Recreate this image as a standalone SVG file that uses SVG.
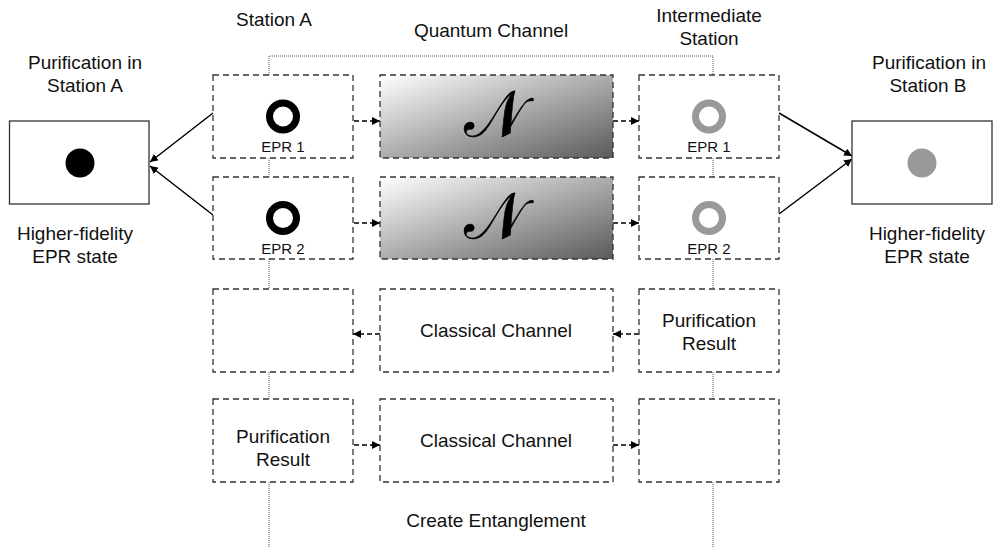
<svg xmlns="http://www.w3.org/2000/svg" width="993" height="547" viewBox="0 0 993 547">
<style>
text{font-family:"Liberation Sans",Arial,sans-serif;fill:#111;text-anchor:middle}
.t{font-size:19px}
.s{font-size:15px}
.box{fill:#fff;stroke:#333;stroke-width:1.3;stroke-dasharray:6 4}
.qbox{fill:url(#grad);stroke:#333;stroke-width:1.3;stroke-dasharray:6 4}
.solid{fill:#fff;stroke:#333;stroke-width:1.3}
.dot{fill:none;stroke:#555;stroke-width:1;stroke-dasharray:1 1}
.da{fill:none;stroke:#000;stroke-width:1.5;stroke-dasharray:5 3;marker-end:url(#ah)}
.sa{fill:none;stroke:#000;stroke-width:1.5;marker-end:url(#ah)}
.n{font-family:"DejaVu Serif","Liberation Serif",serif;font-size:64px;fill:#000;stroke:#000;stroke-width:0.6}
</style>
<defs>
<linearGradient id="grad" x1="0" y1="0" x2="1" y2="1">
<stop offset="0" stop-color="#ffffff"/>
<stop offset="1" stop-color="#5a5a5a"/>
</linearGradient>
<marker id="ah" viewBox="0 0 10 10" refX="10" refY="5" markerWidth="8" markerHeight="8" markerUnits="userSpaceOnUse" orient="auto">
<path d="M0 0 L10 5 L0 10 Z" fill="#000"/>
</marker>
</defs>

<g id="connectors">
<path class="dot" d="M269 75 V56 H713 V75"/>
<path class="dot" d="M269 158 V177 M269 259 V289 M269 372 V399 M269 482 V547"/>
<path class="dot" d="M713 158 V177 M713 259 V289 M713 372 V399 M713 482 V547"/>
<path class="da" d="M354 121 H380"/>
<path class="da" d="M613 121 H639"/>
<path class="da" d="M354 223 H380"/>
<path class="da" d="M613 223 H639"/>
<path class="da" d="M380 334 H353"/>
<path class="da" d="M639 334 H613"/>
<path class="da" d="M354 445 H380"/>
<path class="da" d="M613 445 H639"/>
<path class="sa" d="M213 113 L150 162"/>
<path class="sa" d="M213 215 L150 166"/>
<path class="sa" d="M779 113 L852 156"/>
<path class="sa" d="M779 214 L852 159"/>
</g>

<g id="labels">
<text class="t" x="274" y="26">Station A</text>
<text class="t" x="491" y="37">Quantum Channel</text>
<text class="t" x="709" y="22">Intermediate</text>
<text class="t" x="709" y="45">Station</text>
<text class="t" x="496" y="527">Create Entanglement</text>
</g>

<g id="purA">
<text class="t" x="85" y="69">Purification in</text>
<text class="t" x="85" y="92">Station A</text>
<rect class="solid" x="9.5" y="121" width="139.5" height="83"/>
<circle cx="80" cy="163" r="14.5" fill="#000"/>
<text class="t" x="75" y="240">Higher-fidelity</text>
<text class="t" x="75" y="263">EPR state</text>
</g>

<g id="purB">
<text class="t" x="929" y="69">Purification in</text>
<text class="t" x="928" y="92">Station B</text>
<rect class="solid" x="852" y="121" width="140" height="83"/>
<circle cx="922" cy="163" r="14.5" fill="#999"/>
<text class="t" x="927" y="240">Higher-fidelity</text>
<text class="t" x="927" y="263">EPR state</text>
</g>

<g id="a1">
<rect class="box" x="213" y="75" width="140" height="83"/>
<circle cx="283" cy="116.5" r="13.5" fill="none" stroke="#000" stroke-width="7"/>
<text class="s" x="283" y="152">EPR 1</text>
</g>
<g id="a2">
<rect class="box" x="213" y="177" width="140" height="82"/>
<circle cx="283" cy="218" r="13.5" fill="none" stroke="#000" stroke-width="7"/>
<text class="s" x="283" y="254">EPR 2</text>
</g>
<g id="a3">
<rect class="box" x="213" y="289" width="140" height="83"/>
</g>
<g id="a4">
<rect class="box" x="213" y="399" width="140" height="83"/>
<text class="t" x="283" y="443">Purification</text>
<text class="t" x="283" y="466">Result</text>
</g>

<g id="q1">
<rect class="qbox" x="380" y="75" width="233" height="83"/>
<text class="n" x="494" y="136">𝒩</text>
</g>
<g id="q2">
<rect class="qbox" x="380" y="177" width="233" height="82"/>
<text class="n" x="494" y="238">𝒩</text>
</g>
<g id="c1">
<rect class="box" x="380" y="289" width="233" height="83"/>
<text class="t" x="496" y="337">Classical Channel</text>
</g>
<g id="c2">
<rect class="box" x="380" y="399" width="233" height="83"/>
<text class="t" x="496" y="447">Classical Channel</text>
</g>

<g id="i1">
<rect class="box" x="639" y="75" width="140" height="83"/>
<circle cx="709" cy="116.5" r="13.5" fill="none" stroke="#999" stroke-width="7"/>
<text class="s" x="709" y="152">EPR 1</text>
</g>
<g id="i2">
<rect class="box" x="639" y="177" width="140" height="82"/>
<circle cx="709" cy="218" r="13.5" fill="none" stroke="#999" stroke-width="7"/>
<text class="s" x="709" y="254">EPR 2</text>
</g>
<g id="i3">
<rect class="box" x="639" y="289" width="140" height="83"/>
<text class="t" x="709" y="327">Purification</text>
<text class="t" x="709" y="350">Result</text>
</g>
<g id="i4">
<rect class="box" x="639" y="399" width="140" height="83"/>
</g>
</svg>
